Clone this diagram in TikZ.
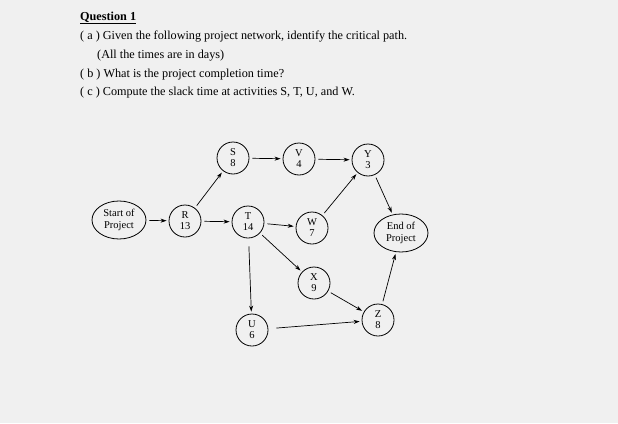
\documentclass[tikz,border=0pt]{standalone}
\usepackage{fontspec}
\setmainfont{Liberation Serif}
\usetikzlibrary{arrows.meta,shapes.geometric}
\begin{document}
\begin{tikzpicture}[x=1pt,y=-1pt,
 act/.style={draw,circle,line width=0.8pt,minimum size=32pt,inner sep=0pt,align=center,font=\fontsize{10.5}{11}\selectfont},
 term/.style={draw,ellipse,line width=0.8pt,minimum width=54pt,minimum height=38pt,inner sep=0pt,align=center,font=\fontsize{10.5}{12}\selectfont},
 arr/.style={line width=0.7pt,-{Stealth[length=6pt,width=4pt]},shorten <=3pt,shorten >=2pt},
 txt/.style={anchor=west,inner sep=0pt,font=\fontsize{12.2}{13}\selectfont}]
\fill[gray!12] (0,0) rectangle (618,423);
\useasboundingbox (0,0) rectangle (618,423);
\node[txt,font=\fontsize{12.2}{13}\selectfont\bfseries] (q) at (80,18) {\underline{Question 1}};
\node[txt] (la) at (80,37) {( a ) Given the following project network, identify the critical path.};
\node[txt] (lb) at (97,56) {(All the times are in days)};
\node[txt] (lc) at (80,75) {( b ) What is the project completion time?};
\node[txt] (ld) at (80,93) {( c ) Compute the slack time at activities S, T, U, and W.};
\node[term] (st) at (119,220) {Start of\\Project};
\node[act] (R) at (185,221) {R\\13};
\node[act] (S) at (233,158) {S\\8};
\node[act] (V) at (299,159) {V\\4};
\node[act] (Y) at (368,160) {Y\\3};
\node[act] (T) at (248,222) {T\\14};
\node[act] (W) at (312,228) {W\\7};
\node[act] (X) at (314,283) {X\\9};
\node[act] (U) at (252,330) {U\\6};
\node[act] (Z) at (378,320) {Z\\8};
\node[term] (E) at (401,233) {End of\\Project};
\draw[arr] (st) -- (R);
\draw[arr] (R) -- (S);
\draw[arr] (R) -- (T);
\draw[arr] (S) -- (V);
\draw[arr] (V) -- (Y);
\draw[arr] (T) -- (W);
\draw[arr] (T) -- (X);
\draw[arr,shorten <=8pt] (T) -- (U);
\draw[arr] (W) -- (Y);
\draw[arr] (Y) -- (E);
\draw[arr] (X) -- (Z);
\draw[arr,shorten <=8pt] (U) -- (Z);
\draw[arr] (Z) -- (E);
\end{tikzpicture}
\end{document}
